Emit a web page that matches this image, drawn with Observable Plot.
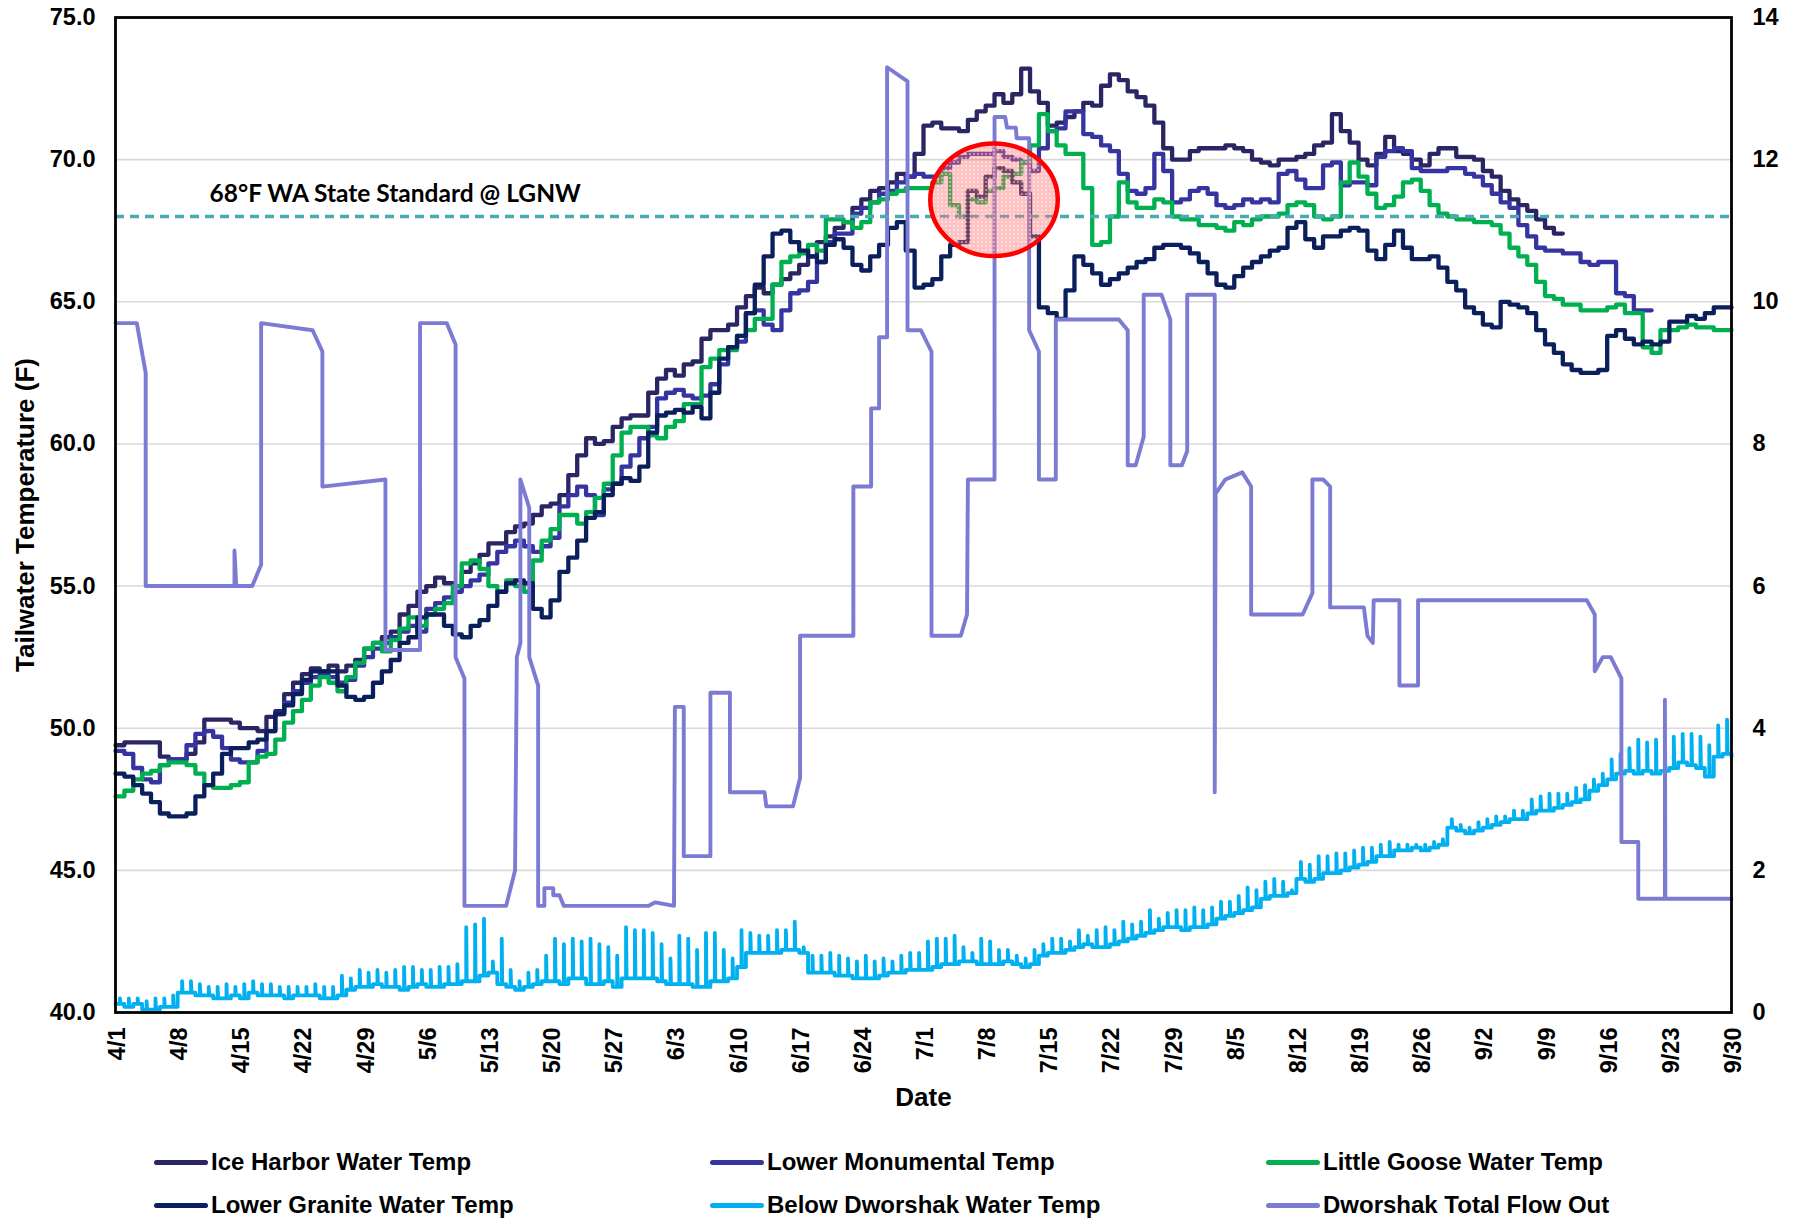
<!DOCTYPE html>
<html><head><meta charset="utf-8">
<script src="https://cdn.jsdelivr.net/npm/d3@7"></script>
<script src="https://cdn.jsdelivr.net/npm/@observablehq/plot@0.6"></script>
<style>
body{margin:0;background:#fff;}
#wrap{position:relative;width:1801px;height:1222px;background:#fff;font-family:"Liberation Sans",Arial,sans-serif;overflow:hidden;}
#chart{position:absolute;left:0;top:0;}
.leg{position:absolute;display:flex;align-items:center;font-weight:bold;font-size:24px;color:#000;white-space:nowrap;height:30px;}
.sw{width:54px;height:5px;border-radius:3px;margin-right:3px;}
</style></head><body>
<div id="wrap"><div id="chart"></div><div id="legend"></div></div>
<script>
// ---------------- DATA (daily values from 4/1 to 9/30, day index 0 = 4/1) ----------------
const seriesNames = ["Ice Harbor Water Temp","Lower Monumental Temp","Little Goose Water Temp","Lower Granite Water Temp","Below Dworshak Water Temp","Dworshak Total Flow Out"];
const xTickLabels = ["4/1","4/8","4/15","4/22","4/29","5/6","5/13","5/20","5/27","6/3","6/10","6/17","6/24","7/1","7/8","7/15","7/22","7/29","8/5","8/12","8/19","8/26","9/2","9/9","9/16","9/23","9/30"];
const leftTicks = [40,45,50,55,60,65,70,75];
const rightTicks = [0,2,4,6,8,10,12,14];

const iceHarbor = [
49.4,49.5,49.5,49.5,49.5,49.0,48.9, 48.9,49.1,49.5,50.3,50.3,50.3,50.2,
50.0,50.0,49.9,50.4,50.6,51.2,51.6, 51.9,52.1,52.0,52.2,52.0,52.2,52.4,
52.8,53.0,53.2,53.4,54.0,54.3,54.8, 55.0,55.3,55.1,55.0,55.5,55.8,56.1,
56.5,56.5,56.9,57.1,57.2,57.5,57.8, 57.9,58.2,58.9,59.6,60.2,60.0,60.1,
60.6,60.9,61.0,61.0,61.8,62.3,62.6, 62.4,62.8,62.9,63.7,64.0,64.0,64.2,
64.8,65.2,65.5,65.3,65.6,65.8,66.0, 66.3,66.6,67.1,67.3,67.6,67.8,68.3,
68.6,68.9,69.0,69.2,69.5,69.4,70.2, 71.2,71.3,71.1,71.1,71.0,71.4,71.7,
71.9,72.3,72.0,72.3,73.2,72.4,72.0, 71.2,71.3,71.5,71.7,72.0,71.9,72.6,
73.0,72.8,72.4,72.2,71.9,71.3,70.4, 70.0,70.0,70.3,70.4,70.4,70.4,70.5,
70.4,70.3,70.0,69.9,69.8,70.0,70.0, 70.1,70.2,70.5,70.6,71.6,71.0,70.6,
70.0,69.8,70.2,70.8,70.3,70.2,70.0, 69.8,70.2,70.4,70.4,70.1,70.1,70.0,
69.6,69.4,68.9,68.6,68.4,68.2,67.9, 67.6,67.4];

const lowerMonumental = [
49.2,49.1,48.6,48.2,48.1,48.7,48.9, 48.9,49.4,49.8,49.9,49.7,49.3,48.9,
48.8,48.8,49.2,49.9,50.5,50.9,51.3, 51.6,51.8,51.9,51.8,51.6,51.7,52.2,
52.5,52.8,53.0,53.2,53.4,53.6,53.4, 54.2,54.4,54.6,54.8,55.0,55.2,55.4,
55.8,56.2,56.4,56.6,56.4,56.2,56.4, 56.7,57.8,58.2,58.5,58.2,57.5,58.4,
58.6,59.2,59.6,60.2,60.6,61.6,61.8, 61.9,61.7,61.6,61.7,62.1,62.8,63.4,
63.6,64.6,64.7,64.2,64.0,64.7,65.3, 65.4,65.7,66.4,67.1,67.4,67.4,68.1,
68.3,68.5,68.8,68.9,69.2,69.4,69.5, 69.4,69.4,69.7,69.9,70.1,70.2,70.2,
70.2,70.3,70.1,70.0,69.9,69.6,70.4, 71.0,71.1,71.7,71.7,70.9,70.8,70.5,
70.3,69.5,68.9,68.8,69.0,70.2,69.6, 68.5,68.6,68.9,69.0,68.8,68.4,68.3,
68.4,68.6,68.5,68.6,68.5,69.5,69.6, 69.3,69.0,69.0,69.8,69.9,69.1,69.2,
69.2,69.1,70.1,70.3,70.4,70.3,69.7, 69.6,69.6,69.6,69.7,69.7,69.5,69.4,
69.1,68.8,68.5,68.3,67.7,67.3,66.9, 66.8,66.8,66.7,66.7,66.4,66.3,66.4,
66.4,65.3,65.2,64.7,64.7];

const littleGoose = [
47.6,47.8,48.2,48.4,48.5,48.7,48.8, 48.8,48.7,48.4,48.0,47.9,47.9,48.0,
48.1,48.8,49.0,49.1,49.6,50.2,50.6, 51.0,51.5,51.8,51.6,51.3,51.8,52.3,
52.8,53.0,52.7,53.1,53.5,53.9,53.6, 54.0,54.2,54.4,55.0,55.8,55.9,55.6,
55.0,54.8,55.2,55.0,54.8,55.9,56.6, 57.0,57.5,57.5,57.2,57.6,58.1,58.6,
59.6,60.4,60.6,60.6,60.3,60.2,60.6, 60.8,61.4,61.4,62.7,63.0,63.3,63.3,
63.8,64.0,64.4,64.4,65.6,66.4,66.6, 66.7,67.0,66.8,67.9,67.9,67.8,67.6,
67.8,68.5,68.6,68.8,68.9,69.0,69.0, 69.0,69.2,69.5,68.4,68.0,68.6,68.5,
68.9,69.0,69.4,69.5,69.9,70.5,71.6, 71.0,70.5,70.2,70.2,69.0,67.0,67.1,
68.0,69.2,68.5,68.3,68.3,68.6,68.5, 68.0,67.9,67.9,67.7,67.7,67.6,67.5,
67.8,67.7,67.9,68.0,68.0,68.1,68.4, 68.5,68.4,68.0,67.9,68.0,69.2,69.9,
69.4,68.8,68.3,68.4,68.7,69.2,69.3, 68.9,68.4,68.1,68.0,67.9,67.9,67.8,
67.8,67.7,67.4,66.9,66.6,66.3,65.7, 65.2,65.1,64.9,64.9,64.7,64.7,64.7,
64.8,64.9,64.6,64.6,63.4,63.2,64.0, 64.0,64.1,64.2,64.1,64.1,64.0,64.0,64.0];

const lowerGranite = [
48.4,48.3,48.0,47.7,47.4,47.0,46.9, 46.9,47.0,47.6,48.0,48.4,49.1,49.3,
49.3,49.5,49.6,49.9,50.5,50.8,51.2, 51.7,52.0,52.0,52.0,51.5,51.1,51.0,
51.1,51.6,52.0,52.4,53.0,53.2,53.9, 54.0,54.0,53.6,53.3,53.2,53.6,53.8,
54.3,54.8,55.1,55.2,55.1,54.2,53.9, 54.5,55.5,56.0,56.6,57.4,57.6,58.2,
58.6,58.8,58.7,59.2,60.4,61.0,61.1, 61.2,61.1,61.3,60.9,61.8,63.0,63.4,
63.8,64.6,65.6,66.6,67.4,67.5,67.1, 66.8,66.6,66.4,67.0,67.2,66.9,66.3,
66.1,66.6,67.0,67.6,67.8,66.8,65.5, 65.6,65.8,66.6,67.0,67.1,68.9,68.7,
69.4,69.7,69.6,69.2,68.8,67.3,64.8, 64.6,64.4,65.4,66.6,66.3,66.0,65.6,
65.8,66.0,66.2,66.4,66.5,66.9,67.0, 67.0,66.9,66.7,66.4,66.0,65.6,65.5,
65.9,66.2,66.4,66.6,66.8,66.9,67.6, 67.8,67.2,66.9,67.3,67.3,67.5,67.6,
67.5,66.8,66.5,67.0,67.5,66.9,66.5, 66.5,66.6,66.2,65.7,65.4,64.8,64.6,
64.2,64.1,65.0,64.9,64.8,64.6,64.0, 63.5,63.2,62.8,62.6,62.5,62.5,62.6,
63.8,64.0,63.7,63.5,63.6,63.5,63.6, 64.3,64.3,64.5,64.4,64.6,64.8,64.8,64.8];

// Below Dworshak: daily low (base) and daily high (spike)
const dworshakBase = [
40.3,40.2,40.3,40.1,40.1,40.2,40.2, 40.7,40.7,40.6,40.6,40.5,40.5,40.6,
40.5,40.7,40.6,40.6,40.6,40.5,40.6, 40.6,40.6,40.5,40.5,40.6,40.8,40.9,
40.9,41.0,40.9,40.9,40.8,40.9,41.0, 40.9,40.9,41.0,41.0,41.1,41.1,41.3,
41.4,41.0,40.9,40.8,40.9,41.0,41.1, 41.1,41.0,41.2,41.2,41.0,41.0,41.1,
40.9,41.2,41.2,41.2,41.2,41.1,41.0, 41.0,41.0,40.9,40.9,41.1,41.1,41.2,
41.6,42.1,42.1,42.1,42.1,42.2,42.2, 42.1,41.4,41.4,41.4,41.3,41.3,41.2,
41.2,41.2,41.3,41.4,41.4,41.5,41.5, 41.5,41.6,41.7,41.7,41.8,41.8,41.7,
41.7,41.7,41.8,41.7,41.6,41.7,42.0, 42.1,42.1,42.2,42.3,42.4,42.3,42.3,
42.4,42.5,42.6,42.7,42.8,42.9,43.0, 43.0,42.9,43.0,43.0,43.1,43.3,43.4,
43.5,43.6,43.7,44.0,44.1,44.1,44.2, 44.7,44.6,44.7,44.9,44.9,45.0,45.1,
45.2,45.3,45.5,45.5,45.7,45.7,45.8, 45.7,45.8,45.9,46.5,46.4,46.3,46.4,
46.5,46.6,46.7,46.8,46.8,47.0,47.1, 47.1,47.2,47.3,47.4,47.5,47.8,48.0,
48.2,48.4,48.5,48.4,48.5,48.4,48.5, 48.6,48.8,48.7,48.6,48.3,49.0,49.1,49.0];
const dworshakPeak = [
40.5,40.5,40.5,40.4,40.5,40.5,40.6, 41.1,41.1,41.0,40.9,40.9,41.0,40.9,
41.0,41.1,41.0,41.0,40.9,40.9,40.9, 40.9,41.0,40.9,40.9,41.3,41.2,41.5,
41.4,41.5,41.4,41.5,41.6,41.6,41.5, 41.5,41.6,41.6,41.7,43.0,43.1,43.3,
41.8,42.6,41.5,41.1,41.4,41.5,42.0, 42.6,42.4,42.6,42.5,42.6,42.4,42.3,
42.0,43.0,42.9,42.9,42.8,42.4,41.9, 42.7,42.6,42.2,42.8,42.8,42.2,41.9,
42.9,42.8,42.7,42.7,42.9,42.9,43.2, 42.3,42.0,42.0,42.1,42.0,41.9,41.8,
42.0,41.8,41.9,41.8,42.0,42.1,42.1, 42.5,42.6,42.6,42.7,42.3,42.1,42.6,
42.5,42.2,42.2,42.0,41.9,42.2,42.4, 42.6,42.6,42.5,42.9,42.7,42.9,43.0,
42.9,43.2,43.1,43.2,43.6,43.3,43.5, 43.6,43.6,43.7,43.6,43.7,43.9,43.9,
44.1,44.4,44.3,44.6,44.7,44.6,44.3, 45.3,45.2,45.5,45.5,45.6,45.6,45.7,
45.8,45.8,45.9,46.0,45.9,45.9,45.9, 45.9,46.0,46.1,46.8,46.6,46.5,46.7,
46.8,46.9,46.9,47.1,47.1,47.5,47.6, 47.7,47.7,47.7,47.9,48.0,48.2,48.4,
48.9,49.1,49.3,49.6,49.5,49.6,49.4, 49.7,49.8,49.8,49.7,49.4,50.1,50.3,49.9];

// Dworshak Total Flow Out (kcfs, right axis): vertices (day since 4/1, kcfs)
const flowDay = [0,2.4,3.4,3.4,13.4,13.4,13.6,15.4,16.4,16.4,22.2,23.3,23.3,30.4,30.4,34.3,34.3,37.3,38.3,38.3,39.3,39.3,44.0,45.0,45.2,45.6,45.6,46.6,46.6,47.6,47.6,48.3,48.3,49.3,49.3,50.0,50.5,60.0,60.8,62.9,63.0,64.0,64.0,67.0,67.0,69.2,69.2,73.1,73.3,76.3,77.1,77.1,83.1,83.1,85.1,85.1,86.0,86.0,86.9,86.9,89.2,89.2,90.7,91.9,91.9,95.2,95.9,96.0,99.0,99.0,100.2,100.4,101.4,101.5,102.9,102.9,104.0,104.0,105.9,105.9,113.0,114.0,114.0,114.9,115.8,115.8,117.8,118.8,118.8,120.1,120.7,120.7,123.8,123.8,123.9,125.0,126.9,127.9,127.9,133.7,134.8,134.8,136.0,136.8,136.8,140.6,141.0,141.6,141.7,144.6,144.6,146.7,146.7,165.7,166.6,166.6,167.5,168.4,169.6,169.6,171.5,171.5,174.5,174.5,174.55,182];
const flowKcfs = [9.7,9.7,9.0,6.0,6.0,6.5,6.0,6.0,6.3,9.7,9.6,9.3,7.4,7.5,5.1,5.1,9.7,9.7,9.4,5.0,4.7,1.5,1.5,2.0,5.0,5.2,7.5,7.1,5.0,4.6,1.5,1.5,1.75,1.75,1.65,1.65,1.5,1.5,1.55,1.5,4.3,4.3,2.2,2.2,4.5,4.5,3.1,3.1,2.9,2.9,3.3,5.3,5.3,7.4,7.4,8.5,8.5,9.5,9.5,13.3,13.1,9.6,9.6,9.3,5.3,5.3,5.6,7.5,7.5,12.6,12.6,12.45,12.45,12.3,12.3,9.6,9.3,7.5,7.5,9.75,9.75,9.6,7.7,7.7,8.1,10.1,10.1,9.75,7.7,7.7,7.9,10.1,10.1,3.1,7.3,7.5,7.6,7.4,5.6,5.6,5.9,7.5,7.5,7.4,5.7,5.7,5.3,5.2,5.8,5.8,4.6,4.6,5.8,5.8,5.6,4.8,5.0,5.0,4.7,2.4,2.4,1.6,1.6,4.4,1.6,1.6];

const standardTemp = 68;
const standardLabel = "68°F WA State Standard @ LGNW";

// ---------------- BUILD ----------------
const DAY = 864e5;
const t0 = Date.UTC(2021, 3, 1);
const toDate = d => new Date(t0 + d * DAY);
const lastDay = 182;
const flowToTemp = f => 40 + 2.5 * f; // 0–14 kcfs shares the 40–75 °F frame

const colors = ["#2A2563", "#3634A0", "#00B050", "#0B1F5C", "#00B0F0", "#7B7BD4"];

function dailyRows(arr) {
  const rows = arr.map((v, i) => ({date: toDate(i), v}));
  const end = Math.min(arr.length, lastDay);
  if (end > arr.length - 1) rows.push({date: toDate(end), v: arr[arr.length - 1]});
  return rows;
}
const bdRows = [];
dworshakBase.forEach((b, i) => {
  bdRows.push({date: toDate(i), v: b});
  if (i < lastDay) {
    bdRows.push({date: toDate(i + 0.5), v: b}, {date: toDate(i + 0.5), v: dworshakPeak[i]}, {date: toDate(i + 0.56), v: b}, {date: toDate(i + 1), v: b});
  }
});
const flowRows = flowDay.map((d, i) => ({date: toDate(d), v: flowToTemp(flowKcfs[i])}));
const tickDates = xTickLabels.map((_, i) => toDate(i * 7));

const lineOpts = (i) => ({x: "date", y: "v", stroke: colors[i], strokeWidth: 4.3, strokeLinejoin: "round", strokeLinecap: "round"});

function highlight(index, scales) {
  const {x, y} = scales;
  const cDay = 99.0, cTemp = 68.57, hwDays = 7.18, hhTemp = 1.98;
  const cx = x(toDate(cDay)), cy = y(cTemp);
  const rx = x(toDate(cDay + hwDays)) - cx;
  const ry = cy - y(cTemp + hhTemp);
  const g = d3.create("svg:g");
  const pat = g.append("defs").append("pattern").attr("id", "pinkDots")
    .attr("width", 4).attr("height", 4).attr("patternUnits", "userSpaceOnUse");
  pat.append("rect").attr("width", 4).attr("height", 4).attr("fill", "rgba(255,110,110,0.42)");
  pat.append("circle").attr("cx", 2).attr("cy", 2).attr("r", 0.9).attr("fill", "rgba(255,255,255,0.6)");
  g.append("ellipse").attr("cx", cx).attr("cy", cy).attr("rx", rx).attr("ry", ry)
    .attr("fill", "url(#pinkDots)").attr("stroke", "#FF0000").attr("stroke-width", 4.5);
  return g.node();
}

const chart = Plot.plot({
  width: 1801, height: 1130,
  marginLeft: 115, marginRight: 70, marginTop: 17, marginBottom: 118,
  style: {fontFamily: "'Liberation Sans', Arial, sans-serif", fontWeight: "bold", fontSize: "23px", background: "white", color: "black", overflow: "visible"},
  x: {type: "utc", domain: [toDate(0), toDate(lastDay)]},
  y: {domain: [40, 75]},
  marks: [
    Plot.gridY(leftTicks.slice(1, -1), {stroke: "#D9D9D9", strokeOpacity: 1, strokeWidth: 1.6}),
    Plot.line(dailyRows(iceHarbor), {...lineOpts(0), curve: "step-after"}),
    Plot.line(dailyRows(lowerMonumental), {...lineOpts(1), curve: "step-after"}),
    Plot.line(dailyRows(littleGoose), {...lineOpts(2), curve: "step-after"}),
    Plot.line(dailyRows(lowerGranite), {...lineOpts(3), curve: "step-after"}),
    Plot.line(bdRows, {...lineOpts(4), strokeWidth: 3.8}),
    Plot.line(flowRows, {...lineOpts(5), strokeWidth: 3.9}),
    Plot.ruleY([standardTemp], {stroke: "#4BA9B4", strokeWidth: 3.4, strokeDasharray: "9,6"}),
    Plot.text([standardLabel], {x: toDate(10.6), y: 68.8, text: d => d, textAnchor: "start", fontSize: 24.5, fontWeight: "bold", fontFamily: "Lato, 'Open Sans', sans-serif", fill: "black"}),
    highlight,
    Plot.frame({stroke: "black", strokeWidth: 2.8}),
    Plot.axisY(leftTicks, {anchor: "left", tickSize: 0, tickPadding: 20, tickFormat: d => d.toFixed(1), fontSize: 23.5, label: null}),
    Plot.axisY(leftTicks, {anchor: "right", tickSize: 0, tickPadding: 21, tickFormat: (d, i) => String(rightTicks[i]), fontSize: 23.5, label: null}),
    Plot.axisX(tickDates, {anchor: "bottom", tickSize: 0, tickPadding: 15, tickRotate: -90, dx: 2, tickFormat: (d, i) => xTickLabels[i], fontSize: 23.5, label: null}),
    Plot.text(["Date"], {frameAnchor: "bottom", dy: 93, text: d => d, fontSize: 26, fontWeight: "bold", fill: "black"}),
    Plot.text(["Tailwater Temperature (F)"], {frameAnchor: "left", dx: -90, rotate: -90, textAnchor: "middle", text: d => d, fontSize: 26, fontWeight: "bold", fill: "black"})
  ]
});
document.getElementById("chart").appendChild(chart);

// legend (3 columns x 2 rows)
const legPos = [[154, 1162], [710, 1162], [1266, 1162], [154, 1205], [710, 1205], [1266, 1205]];
const legend = document.getElementById("legend");
seriesNames.forEach((name, i) => {
  const el = document.createElement("div");
  el.className = "leg";
  el.style.left = legPos[i][0] + "px";
  el.style.top = (legPos[i][1] - 15) + "px";
  el.innerHTML = `<div class="sw" style="background:${colors[i]}"></div><span>${name}</span>`;
  legend.appendChild(el);
});
</script>
</body></html>
